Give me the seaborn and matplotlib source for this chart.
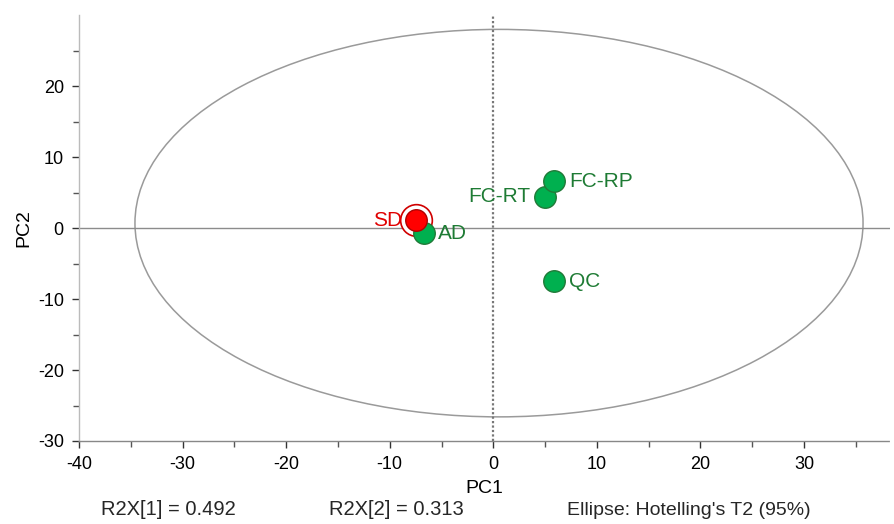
import numpy as np
import pandas as pd
import matplotlib
matplotlib.use("Agg")
import matplotlib.pyplot as plt
from matplotlib.patches import Ellipse
import seaborn as sns

samples = ["SD", "AD", "FC-RT", "FC-RP", "QC"]
pc1 = [-7.5, -6.7, 5.0, 5.9, 5.9]
pc2 = [1.1, -0.7, 4.4, 6.6, -7.5]
groups = ["SD", "other", "other", "other", "other"]
r2x = [0.492, 0.313]

df = pd.DataFrame({"sample": samples, "PC1": pc1, "PC2": pc2, "group": groups})

sns.set_style("white")
plt.rcParams["font.family"] = ["Liberation Sans", "DejaVu Sans"]
plt.rcParams["axes.unicode_minus"] = False

fig = plt.figure(figsize=(8.94, 5.24), dpi=100)
ax = fig.add_axes([0.0884, 0.1584, 0.9071, 0.8126])

green = "#00B04F"
green_edge = "#217A38"
green_txt = "#1E7B34"
red = "#FF0000"
red_txt = "#E00000"

# hotelling ellipse
ax.add_patch(Ellipse((0.55, 0.7), 70.3, 54.6, fill=False, edgecolor="#9a9a9a", lw=1.1, zorder=1))

# center lines
ax.axhline(0, color="#8c8c8c", lw=1.0, zorder=1)
ax.axvline(0, color="#777777", lw=1.6, ls=(0, (1, 1)), zorder=1)

# ring around SD
sd = df[df["group"] == "SD"]
ax.scatter(sd["PC1"], sd["PC2"], s=520, facecolor="white", edgecolor="#D00000", linewidth=1.2, zorder=2)

sns.scatterplot(data=df[df["group"] == "other"], x="PC1", y="PC2", ax=ax, s=240,
                color=green, edgecolor=green_edge, linewidth=1.0, zorder=3, legend=False)
sns.scatterplot(data=sd, x="PC1", y="PC2", ax=ax, s=240,
                color=red, edgecolor="#B00000", linewidth=1.0, zorder=4, legend=False)

for _, r in df.iterrows():
    if r["sample"] == "SD":
        ax.text(r["PC1"] - 1.3, r["PC2"], r["sample"], color=red_txt, fontsize=15,
                ha="right", va="center", zorder=5)
    elif r["sample"] == "FC-RT":
        ax.text(r["PC1"] - 1.4, r["PC2"], r["sample"], color=green_txt, fontsize=15,
                ha="right", va="center", zorder=5)
    else:
        ax.text(r["PC1"] + 1.4, r["PC2"], r["sample"], color=green_txt, fontsize=15,
                ha="left", va="center", zorder=5)

ax.set_xlim(-40, 38.3)
ax.set_ylim(-30, 30)
ax.set_xticks([-40, -30, -20, -10, 0, 10, 20, 30])
ax.set_yticks([-30, -20, -10, 0, 10, 20])
ax.set_xticks(np.arange(-35, 38, 10), minor=True)
ax.set_yticks(np.arange(-25, 30, 10), minor=True)
ax.tick_params(axis="both", which="major", direction="out", length=5, width=1,
               color="#333333", labelcolor="black", labelsize=13, pad=6, left=True, bottom=True)
ax.tick_params(axis="both", which="minor", direction="out", length=4, width=1,
               color="#555555", left=True, bottom=True)

for s in ["top", "right"]:
    ax.spines[s].set_visible(False)
ax.spines["left"].set_color("#bbbbbb")
ax.spines["bottom"].set_color("#888888")
for s in ["left", "bottom"]:
    ax.spines[s].set_linestyle((0, (1, 1)))
    ax.spines[s].set_linewidth(1.0)

ax.set_xlabel("PC1", fontsize=14, labelpad=5, color="black")
ax.set_ylabel("PC2", fontsize=14, labelpad=4, color="black")

fig.text(0.188, 0.018, f"R2X[1] = {r2x[0]:.3f}", fontsize=14.5, ha="center")
fig.text(0.443, 0.018, f"R2X[2] = {r2x[1]:.3f}", fontsize=14.5, ha="center")
fig.text(0.770, 0.018, "Ellipse: Hotelling's T2 (95%)", fontsize=14, ha="center")

fig.savefig("out.png", dpi=100)
